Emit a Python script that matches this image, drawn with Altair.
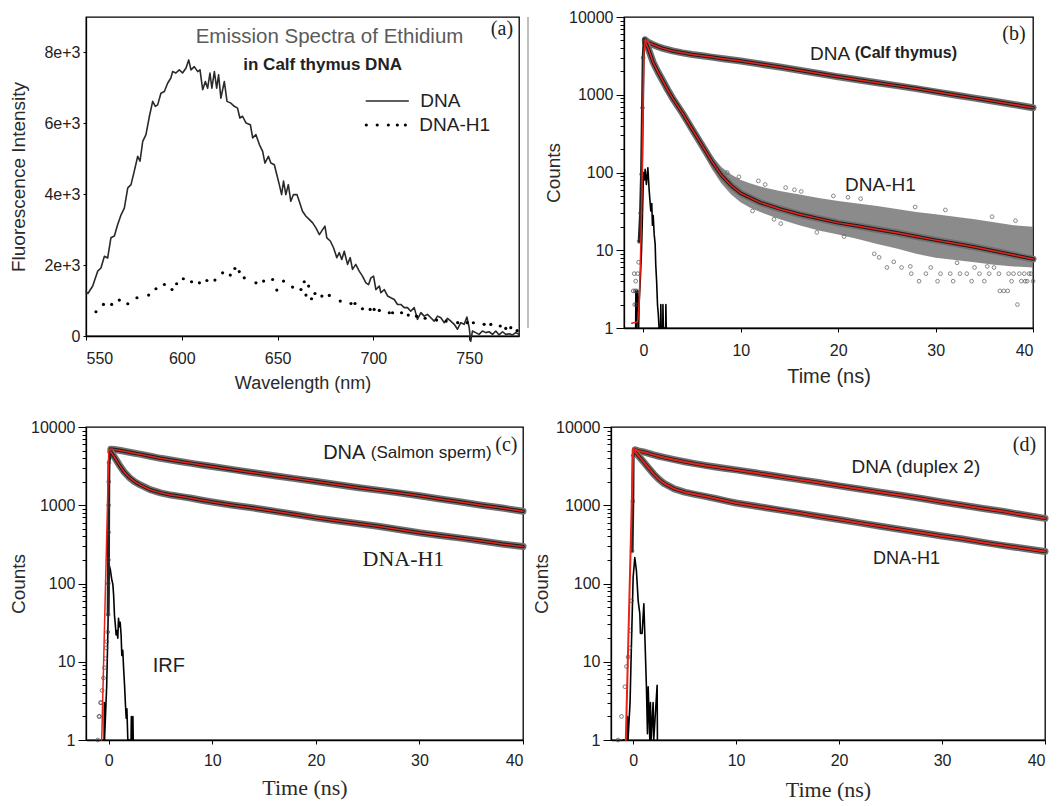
import altair as alt
import pandas as pd

SANS = "Liberation Sans"
SERIF = "Liberation Serif"

# ---------------- (a) emission spectra ----------------
A_WL = [550.0, 551.0, 553.5, 556.1, 557.8, 559.6, 561.3, 563.0, 564.8, 566.5, 568.3, 570.0,
        571.8, 573.5, 575.2, 577.0, 578.2, 579.6, 581.3, 583.1, 584.8, 586.2, 587.4, 589.1,
        590.9, 592.6, 594.3, 595.2, 596.9, 598.7, 600.4, 602.2, 603.6, 604.8, 606.5, 608.3,
        609.5, 610.9, 612.3, 613.5, 614.7, 615.7, 617.0, 618.2, 619.2, 620.4, 622.2, 623.6,
        625.6, 627.4, 629.1, 630.3, 631.7, 633.5, 635.8, 637.0, 638.7, 640.5, 642.2, 643.4,
        645.2, 646.5, 648.3, 649.6, 650.9, 652.1, 653.1, 654.3, 655.6, 656.9, 658.3, 660.1,
        661.3, 663.0, 664.8, 666.5, 668.3, 670.0, 671.8, 673.5, 674.7, 675.7, 677.5, 679.2,
        680.9, 682.2, 683.5, 684.8, 686.5, 687.9, 689.1, 690.8, 692.6, 694.3, 696.1, 697.5,
        698.7, 700.1, 701.3, 703.1, 703.9, 705.7, 707.4, 709.1, 710.9, 712.6, 714.3, 716.1,
        717.8, 719.5, 721.3, 723.0, 724.8, 726.5, 728.2, 730.0, 731.7, 733.5, 735.2, 737.0,
        738.7, 740.4, 742.2, 743.9, 745.6, 747.4, 748.8, 750.0, 750.8, 751.7, 753.4, 755.2,
        756.9, 758.7, 760.4, 762.2, 763.9, 765.6, 767.4, 769.1, 770.9, 772.6, 774.3, 776.0]
A_DNA = [1250, 1200, 1410, 1830, 1920, 2250, 2200, 2770, 2820, 3140, 3420, 3610,
         4180, 4270, 4650, 5070, 4930, 5490, 5680, 6200, 6620, 6480, 6520, 6850,
         6900, 7130, 7280, 7460, 7420, 7510, 7420, 7560, 7790, 7510, 7600, 7460,
         7510, 6950, 7180, 6990, 7420, 6990, 7460, 6990, 7370, 6710, 7180, 6620,
         6570, 6480, 6430, 6150, 6200, 6010, 5960, 5590, 5680, 5400, 5210, 4880,
         5070, 4880, 4830, 4550, 4270, 3990, 4370, 3990, 4270, 3800, 3990, 3990,
         3800, 3520, 3380, 3290, 3190, 3050, 2860, 3000, 3100, 2770, 2680, 2490,
         2210, 2350, 2160, 2390, 2020, 2210, 1880, 2020, 1830, 1690, 1500, 1450,
         1640, 1690, 1310, 1410, 1220, 1310, 1130, 1080, 1030, 890, 890, 800,
         800, 700, 800, 470, 660, 560, 610, 515, 420, 560, 515, 375,
         500, 420, 330, 190, 375, 330, 535, 235, -150, 140, 95, 45,
         140, 95, 120, 45, 140, 30, 120, 45, 65, 30, 95, 45]
A_H1_WL = [555.2, 559.1, 563.4, 567.4, 571.8, 576.6, 582.7, 586.5, 590.9, 594.9, 597.3, 600.8,
           605.1, 609.2, 613.1, 617.3, 621.3, 625.3, 627.7, 630.0, 632.6, 638.7, 642.7, 647.4,
           649.6, 653.1, 657.8, 662.2, 663.9, 664.8, 666.2, 667.7, 669.5, 673.1, 677.0, 682.7,
           688.3, 690.4, 694.3, 698.3, 700.4, 703.1, 708.3, 710.0, 714.7, 718.2, 722.5, 727.0,
           733.0, 738.0, 744.0, 749.0, 752.2, 757.8, 761.3, 766.2, 769.1, 771.7, 775.0]
A_H1 = [684, 890, 890, 1014, 910, 1079, 1155, 1332, 1454, 1313, 1473, 1614,
        1530, 1501, 1566, 1577, 1783, 1718, 1905, 1817, 1642, 1501, 1549, 1595,
        1296, 1549, 1380, 1313, 1530, 1155, 1408, 1051, 1200, 1127, 1144, 986,
        918, 918, 769, 749, 749, 721, 656, 656, 656, 591, 560, 500,
        450, 420, 376, 376, 375, 330, 327, 282, 215, 234, 150]
A_TICKS_X = [550, 600, 650, 700, 750]
A_TICKS_Y = [0, 2000, 4000, 6000, 8000]
A_LEG_LINE_WL = [696.3, 718.2]
A_LEG_LINE_Y = [6628, 6628]
A_LEG_DOT_WL = [696.3, 702.0, 707.8, 712.5, 716.7]
A_LEG_DOT_Y = [5952, 5952, 5952, 5952, 5952]

# ---------------- decay curves (fits, counts) ----------------
T_GRID = [0.2, 0.5, 1, 1.5, 2, 2.5, 3, 4, 5, 6, 7, 8, 9, 10, 12, 14, 16, 18, 20,
          22, 24, 26, 28, 30, 32, 34, 36, 38, 40]
TIME_TICKS = [0, 10, 20, 30, 40]

B_DNA = [5050, 4700, 4400, 4150, 3950, 3800, 3660, 3460, 3300, 3170, 3050, 2930, 2820, 2710,
         2480, 2270, 2070, 1880, 1700, 1560, 1430, 1310, 1200, 1090, 995, 905, 825, 750, 680]
B_H1 = [4800, 3900, 2600, 1950, 1500, 1150, 900, 580, 360, 225, 140, 92, 68, 54,
        41, 34, 29, 25.5, 22.5, 20.5, 18.5, 16.8, 15, 13.5, 12.2, 11, 9.8, 8.7, 7.7]
B_BAND_T = [5, 6, 7, 8, 9, 10, 11, 12, 14, 16, 18, 20, 22, 24, 26, 28, 30, 32, 34, 36, 38, 40]
B_BAND_HI = [400, 255, 165, 118, 94, 80, 72, 66, 58, 52, 47, 43, 40, 37, 34, 31, 29, 27, 25, 23, 21, 20]
B_BAND_LO = [320, 190, 112, 72, 52, 41, 35, 31, 25, 21, 18, 16, 14, 12, 10.5, 9, 8, 7.5, 7, 6.5, 6.2, 6]
B_OUT_T = [11.2, 13.4, 14.1, 17.8, 20.6, 23.7, 24.2, 25.7, 27.4, 28.3, 30.2, 31.8, 33.7, 35.0, 36.6,
           37.0, 37.4, 38.4, 39.2, 40.0, 27.5, 29.0, 30.5, 31.5, 32.5, 33.2, 34.5, 35.5, 36.5, 37.5,
           38.0, 38.6, 39.1, 39.6, 25.0, 26.5, 29.5, 32.2, 35.3, 37.8, 39.4, 34.0, 36.0, 38.8, 39.8,
           8.6, 9.8, 11.8, 14.6, 16.2, 19.5, 22.3, 27.9, 31.0, 35.8, 38.2, 12.5, 15.5, 21.0]
B_OUT_V = [32, 25, 22, 17, 15, 9, 8.1, 7.1, 6.2, 4, 4, 4, 4, 4, 3,
           3, 3, 2, 4, 4, 5, 5, 5, 5, 5, 5, 5, 5, 5, 5,
           5, 5, 5, 5, 6, 6, 6, 6.9, 6.2, 4, 4, 6, 6, 4, 5,
           100, 88, 78, 64, 57, 50, 46, 36, 33, 27, 24, 70, 60, 48]
B_PRE_T = [-1.05, -0.95, -0.9, -0.85, -0.8, -0.75, -0.7, -0.6, -0.5]
B_PRE_V = [3, 5, 2, 3, 4, 2, 3, 5, 7]
B_RISE_T = [-0.44, -0.3, -0.2, -0.1, -0.03, 0.07, 0.2]
B_RISE_V = [13, 30, 95, 680, 3000, 5200, 5050]
B_FIT_RISE_T = [-1.2, -0.6, -0.45, -0.35, -0.25, -0.15, -0.05, 0.05, 0.2]
B_FIT_RISE_V = [1.15, 1.2, 2, 5, 15, 60, 700, 3500, 5050]
B_IRF_T = [-0.8, -0.78, -0.7, -0.6, -0.5, -0.45, -0.3, -0.2, -0.1, 0.0, 0.1, 0.17, 0.3, 0.45,
           0.58, 0.75, 0.85, 0.92, 1.0, 1.1, 1.2, 1.26, 1.35, 1.44, 1.52, 1.6, 1.75, 1.78, 1.82,
           1.98, 2.0, 2.04, 2.28, 2.3, 2.34]
B_IRF_V = [1, 3, 1, 3, 1, 2, 5, 10, 30, 100, 80, 110, 70, 115,
           60, 32, 40, 21, 28, 16, 12, 6.5, 4, 2, 1.5, 1, 1, 2, 1,
           1, 2, 1, 1, 2, 1]

C_DNA = [5200, 5150, 5050, 4900, 4750, 4620, 4500, 4230, 3980, 3780, 3600, 3430, 3270, 3120,
         2850, 2600, 2380, 2190, 2010, 1840, 1690, 1560, 1440, 1325, 1200, 1100, 1000, 920, 840]
C_H1 = [4800, 4200, 3300, 2650, 2250, 2000, 1830, 1580, 1440, 1350, 1290, 1230, 1160, 1100,
        1000, 920, 840, 760, 690, 635, 585, 540, 490, 445, 410, 380, 350, 320, 297]
C_PRE_T = [-1.06, -0.95, -0.9, -0.8, -0.74, -0.65, -0.52, -0.42, -0.32, -0.26, -0.19, -0.1]
C_PRE_V = [1, 2, 2, 3, 3, 4.3, 6.2, 8.4, 11, 15, 18, 24]
C_RISE_T = [-0.06, -0.04, -0.03, -0.02, -0.01, 0.0, 0.02, 0.2]
C_RISE_V = [40, 100, 200, 450, 1000, 2000, 3500, 5200]
C_FIT_RISE_T = [-0.68, 0.0, 0.2]
C_FIT_RISE_V = [1, 5000, 5200]
C_IRF_T = [-0.6, -0.45, -0.43, -0.41, -0.2, -0.1, 0.0, 0.05, 0.15, 0.23, 0.3, 0.39, 0.47, 0.55,
           0.63, 0.71, 0.8, 0.87, 0.94, 1.02, 1.1, 1.19, 1.26, 1.35, 1.43, 1.52, 1.6, 1.68,
           1.75, 1.84, 2.15, 2.18, 2.22, 2.3, 2.33, 2.36]
C_IRF_V = [1, 1, 3, 1, 5, 20, 100, 169, 150, 126, 110, 99, 70, 39,
           30, 22, 25, 20, 36, 28, 32, 22, 12, 14, 8.3, 5.1, 3, 1.9,
           2.5, 1, 1, 2, 1, 1, 2, 1]

D_DNA = [5100, 4950, 4800, 4600, 4400, 4230, 4080, 3820, 3600, 3400, 3230, 3080, 2950, 2830,
         2580, 2350, 2140, 1950, 1770, 1610, 1470, 1340, 1220, 1100, 1000, 910, 830, 750, 680]
D_H1 = [4800, 4300, 3600, 3000, 2500, 2150, 1900, 1620, 1470, 1380, 1300, 1220, 1140, 1070,
        970, 880, 800, 725, 656, 595, 540, 490, 445, 405, 370, 335, 305, 280, 256]
D_PRE_T = [-1.46, -1.13, -0.8, -0.65, -0.49, -0.32, -0.26, -0.16]
D_PRE_V = [1, 2, 4.8, 8.7, 11.5, 15, 25, 60]
D_RISE_T = [-0.1, -0.03, 0.0, 0.16]
D_RISE_V = [260, 1120, 4370, 5100]
D_FIT_RISE_T = [-0.71, 0.0, 0.2]
D_FIT_RISE_V = [1, 5300, 5100]
D_IRF_T = [-1.0, -0.6, -0.55, -0.5, -0.3, -0.15, 0.0, 0.16, 0.32, 0.49, 0.65, 0.71, 0.87, 1.04,
           1.13, 1.29, 1.39, 1.46, 1.62, 1.68, 1.75, 1.94, 2.0, 2.33, 2.36]
D_IRF_V = [1, 1, 2, 1, 3, 20, 120, 214, 145, 60, 41, 23, 23, 55,
           23, 4.8, 1.2, 4.8, 1, 3, 1, 3, 1, 5, 1]

LOG_VALUES = [m * 10 ** e for e in range(4) for m in range(1, 10)] + [10000]
DECADE_TEST = "indexof([1, 10, 100, 1000, 10000], datum.value) >= 0"


def frame(xs, ys, ys2=None):
    d = {"x": list(xs), "y": list(ys), "i": list(range(len(xs)))}
    if ys2 is not None:
        d["y2"] = list(ys2)
    return pd.DataFrame(d)


class Panel:
    def __init__(self, xscale, yscale, xaxis, yaxis):
        self.xs, self.ys, self.xa, self.ya = xscale, yscale, xaxis, yaxis
        self.layers = []

    def X(self):
        return alt.X("x:Q", scale=self.xs, axis=self.xa)

    def Y(self):
        return alt.Y("y:Q", scale=self.ys, axis=self.ya)

    def line(self, xs, ys, **mk):
        self.layers.append(alt.Chart(frame(xs, ys)).mark_line(
            strokeJoin="round", strokeCap="round", **mk).encode(
            x=self.X(), y=self.Y(), order="i:Q"))

    def points(self, xs, ys, **mk):
        self.layers.append(alt.Chart(frame(xs, ys)).mark_point(**mk).encode(
            x=self.X(), y=self.Y()))

    def dots(self, xs, ys, **mk):
        self.layers.append(alt.Chart(frame(xs, ys)).mark_circle(**mk).encode(
            x=self.X(), y=self.Y()))

    def band(self, xs, lo, hi, **mk):
        self.layers.append(alt.Chart(frame(xs, lo, hi)).mark_area(**mk).encode(
            x=self.X(), y=self.Y(), y2=alt.Y2("y2:Q")))

    def text(self, s, x, y, **mk):
        df = pd.DataFrame({"x": [x], "y": [y], "t": [s]})
        self.layers.append(alt.Chart(df).mark_text(baseline="middle", **mk).encode(
            x=self.X(), y=self.Y(), text="t:N"))

    def chart(self, w, h):
        return alt.layer(*self.layers).properties(width=w, height=h)


def time_axis(serif, lab_pad, title_pad, title_size):
    return alt.Axis(values=TIME_TICKS, title="Time (ns)", labelFontSize=16, tickSize=4,
                    labelPadding=lab_pad, titlePadding=title_pad, titleFontSize=title_size,
                    titleFont=SERIF if serif else SANS, format="d", labelFont=SANS)


def log_axis(title_pad):
    return alt.Axis(values=LOG_VALUES, title="Counts", labelFontSize=16,
                    labelExpr=f"{DECADE_TEST} ? format(datum.value, 'd') : ''",
                    labelOverlap=False, labelBound=False,
                    tickSize={"condition": {"test": DECADE_TEST, "value": 8}, "value": 4},
                    labelPadding=3, titleFontSize=19, titlePadding=title_pad)


def decay_panel(p, dna, h1, pre_t, pre_v, rise_t, rise_v, fit_rise_t, fit_rise_v,
                irf_t, irf_v, red_w=1.5):
    p.line(irf_t, irf_v, color="black", strokeWidth=1.6)
    for ys in (dna, h1):
        p.line(T_GRID, ys, color="#707070", strokeWidth=7)
        p.line(T_GRID, ys, color="#1c1c1c", strokeWidth=3.5)
    p.points(pre_t, pre_v, shape="circle", size=14, filled=False, color="#444", strokeWidth=1)
    p.line(rise_t, rise_v, color="#222", strokeWidth=3)
    p.points(rise_t, rise_v, shape="circle", size=14, filled=False, color="#444", strokeWidth=1)
    p.line(fit_rise_t, fit_rise_v, color="#e8231a", strokeWidth=red_w)
    p.line(T_GRID, dna, color="#e8231a", strokeWidth=red_w)
    p.line(T_GRID, h1, color="#e8231a", strokeWidth=red_w)


# ---------- panel (a) ----------
pa = Panel(
    alt.Scale(domain=[550, 776], nice=False, zero=False),
    alt.Scale(domain=[0, 9000], nice=False),
    alt.Axis(values=A_TICKS_X, title="Wavelength (nm)", labelFontSize=16, tickSize=4,
             labelPadding=10, titleFontSize=18, titlePadding=8, format="d"),
    alt.Axis(values=A_TICKS_Y, title="Fluorescence Intensity", labelFontSize=16, tickSize=3,
             labelPadding=3, titleFontSize=19, titlePadding=15,
             labelExpr="datum.value == 0 ? '0' : format(datum.value / 1000, 'd') + 'e+3'"),
)
pa.line(A_WL, A_DNA, color="#2a2a2a", strokeWidth=1.6)
pa.dots(A_H1_WL, A_H1, color="black", size=10, opacity=1)
pa.line(A_LEG_LINE_WL, A_LEG_LINE_Y, color="#2a2a2a", strokeWidth=1.6)
pa.dots(A_LEG_DOT_WL, A_LEG_DOT_Y, color="black", size=10, opacity=1)
pa.text("DNA", 724.5, 6628, align="left", font=SANS, fontSize=19, color="#222")
pa.text("DNA-H1", 724.0, 5952, align="left", font=SANS, fontSize=19, color="#222")
pa.text("Emission Spectra of Ethidium", 677.1, 8431, align="center", font=SANS,
        fontSize=20.5, color="#5a5a5a")
pa.text("in  Calf thymus DNA", 673.5, 7642, align="center", font=SANS, fontSize=17,
        fontWeight="bold", color="#222")
pa.text("(a)", 767.1, 8656, align="center", font=SERIF, fontSize=20, color="#222")
A = pa.chart(433, 319)

# ---------- panel (b) ----------
pb = Panel(alt.Scale(domain=[-2, 40], nice=False, zero=False),
           alt.Scale(type="log", domain=[1, 10000], nice=False),
           time_axis(False, 10, 8, 20), log_axis(5))
pb.layers.append(alt.Chart(frame([0], [1])).mark_rule(color="#aaaaaa", strokeWidth=1.5).encode(
    x=alt.value(-96), y=alt.value(0), y2=alt.value(311)))
pb.band(B_BAND_T, B_BAND_LO, B_BAND_HI, color="#6e6e6e", opacity=0.8)
pb.points(B_OUT_T, B_OUT_V, shape="circle", size=14, filled=False, color="#555", strokeWidth=1)
decay_panel(pb, B_DNA, B_H1, B_PRE_T, B_PRE_V, B_RISE_T, B_RISE_V,
            B_FIT_RISE_T, B_FIT_RISE_V, B_IRF_T, B_IRF_V)
pb.text("(b)", 38.05, 6100, align="center", font=SERIF, fontSize=20, color="#222")
pb.text("DNA", 17.1, 3370, align="left", font=SANS, fontSize=19, color="#222")
pb.text("(Calf thymus)", 21.7, 3470, align="left", font=SANS, fontSize=16,
        fontWeight="bold", color="#222")
pb.text("DNA-H1", 20.7, 69, align="left", font=SANS, fontSize=19, color="#222")
B = pb.chart(409, 311)

# ---------- panel (c) ----------
pc = Panel(alt.Scale(domain=[-2.2, 40], nice=False, zero=False),
           alt.Scale(type="log", domain=[1, 10000], nice=False),
           time_axis(True, 8, 9, 22), log_axis(2))
decay_panel(pc, C_DNA, C_H1, C_PRE_T, C_PRE_V, C_RISE_T, C_RISE_V,
            C_FIT_RISE_T, C_FIT_RISE_V, C_IRF_T, C_IRF_V)
pc.text("DNA", 20.7, 4590, align="left", font=SANS, fontSize=20, color="#222")
pc.text("(Salmon sperm)", 25.3, 4590, align="left", font=SANS, fontSize=17, color="#222")
pc.text("(c)", 38.4, 5970, align="center", font=SERIF, fontSize=20, color="#222")
pc.text("DNA-H1", 24.5, 203, align="left", font=SERIF, fontSize=22, color="#222")
pc.text("IRF", 4.25, 8.7, align="left", font=SANS, fontSize=20, color="#222")
C = pc.chart(437, 313)

# ---------- panel (d) ----------
pd_ = Panel(alt.Scale(domain=[-2.15, 40], nice=False, zero=False),
            alt.Scale(type="log", domain=[1, 10000], nice=False),
            time_axis(True, 8, 11, 22), log_axis(4))
decay_panel(pd_, D_DNA, D_H1, D_PRE_T, D_PRE_V, D_RISE_T, D_RISE_V,
            D_FIT_RISE_T, D_FIT_RISE_V, D_IRF_T, D_IRF_V, red_w=2)
pd_.text("(d)", 38.0, 5910, align="center", font=SERIF, fontSize=20, color="#222")
pd_.text("DNA (duplex 2)", 21.2, 3110, align="left", font=SANS, fontSize=19, color="#222")
pd_.text("DNA-H1", 23.3, 206, align="left", font=SANS, fontSize=18, color="#222")
D = pd_.chart(434, 313)

row1 = alt.hconcat(A, B, spacing=105, bounds="flush")
row2 = alt.hconcat(C, D, spacing=88, bounds="flush")

chart = (
    alt.vconcat(row1, row2, spacing=25)
    .properties(padding=0, background="white")
    .configure_view(stroke="black", strokeWidth=1.3)
    .configure_axis(domainColor="black", domainWidth=1.3, tickColor="black", tickWidth=1,
                    labelColor="#222", titleColor="#2a2a2a", grid=False,
                    labelFont=SANS, titleFont=SANS, titleFontWeight="normal")
)

chart.save("out.html", embed_options={"renderer": "svg", "actions": False})
